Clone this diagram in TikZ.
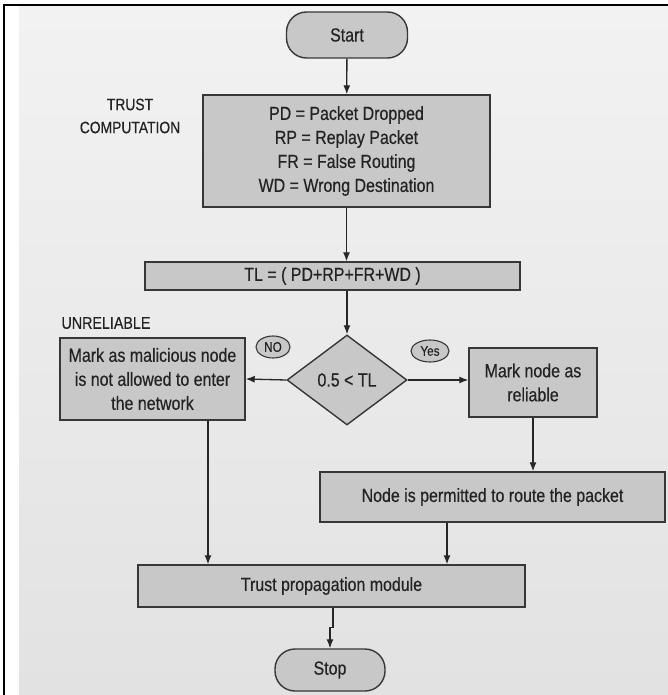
\documentclass[tikz,border=0pt]{standalone}
\usepackage{fontspec}
\setmainfont{Liberation Sans}[FakeStretch=0.84,FakeBold=0.4]
\usetikzlibrary{shapes.geometric,arrows.meta}
\definecolor{bgtop}{RGB}{242,242,242}
\definecolor{bgbot}{RGB}{226,226,226}
\definecolor{boxfill}{RGB}{200,200,200}
\definecolor{edge}{RGB}{55,55,55}
\definecolor{ink}{RGB}{35,35,35}

\begin{document}
\begin{tikzpicture}[x=1pt,y=-1pt,>={Latex[length=9pt,width=7pt]}]
\tikzstyle{b}=[draw=edge,fill=boxfill,line width=1.4pt,text=ink,align=center,font=\fontsize{19}{24}\selectfont,inner sep=2pt]
\tikzstyle{term}=[b,rounded corners=20pt]
\tikzstyle{lbl}=[text=ink,align=center,font=\fontsize{16.5}{23}\selectfont]
\tikzstyle{oval}=[b,ellipse,inner sep=0pt,line width=1.1pt,font=\fontsize{14}{14}\selectfont]
\tikzstyle{arr}=[->,line width=1.3pt,draw=black!85]

\useasboundingbox (0,0) rectangle (668,695);
\shade[top color=bgtop,bottom color=bgbot] (19,7) rectangle (668,695);
\draw[line width=2.5pt] (4,695) -- (4,5) -- (668,5);

% Start and trust computation
\node[term,minimum width=121pt,minimum height=46pt] (start) at (347,35) {Start};
\node[b,minimum width=287pt,minimum height=112pt] (comp) at (346.5,151) {PD = Packet Dropped\\RP = Replay Packet\\FR = False Routing\\WD = Wrong Destination};
\node[lbl] (trust) at (130,116) {TRUST\\COMPUTATION};
\node[b,minimum width=375pt,minimum height=28pt] (tl) at (332.5,276) {TL = ( PD+RP+FR+WD )};
\draw[arr] (start) -- (comp);
\draw[arr] (comp.south) -- (comp.south |- tl.north);

% Decision
\node[b,diamond,minimum width=120pt,minimum height=90pt,inner sep=0pt] (dec) at (347,380) {0.5 < TL};
\node[lbl,anchor=west,font=\fontsize{17}{17}\selectfont] (unrel) at (58,323) {UNRELIABLE};
\node[b,minimum width=185pt,minimum height=82pt] (mal) at (152.5,379) {Mark as malicious node\\is not allowed to enter\\the network};
\node[b,minimum width=128pt,minimum height=69pt] (rel) at (533,382.5) {Mark node as\\reliable};
\node[oval,minimum width=34pt,minimum height=22pt] (no) at (273,347) {NO};
\node[oval,minimum width=38pt,minimum height=22pt] (yes) at (430,351) {Yes};
\draw[arr] (dec.north |- tl.south) -- (dec.north);
\draw[arr] (dec.west) -- (mal.east);
\draw[arr] (dec.east) -- (dec.east -| rel.west);

% Routing and propagation
\node[b,minimum width=345pt,minimum height=50pt] (perm) at (492.5,497) {Node is permitted to route the packet};
\node[b,minimum width=387pt,minimum height=42pt] (prop) at (331.5,586) {Trust propagation module};
\node[term,minimum width=110pt,minimum height=42pt] (stop) at (330,670) {Stop};
\draw[arr] (rel.south) -- (rel.south |- perm.north);
\draw[arr] ([xshift=55.5pt]mal.south) -- ([xshift=55.5pt]mal.south |- prop.north);
\draw[arr] ([xshift=-45.5pt]perm.south) -- ([xshift=-45.5pt]perm.south |- prop.north);
\draw[arr] ([xshift=1.5pt]prop.south) |- ([yshift=21pt]stop.north) -- (stop.north);
\end{tikzpicture}
\end{document}
